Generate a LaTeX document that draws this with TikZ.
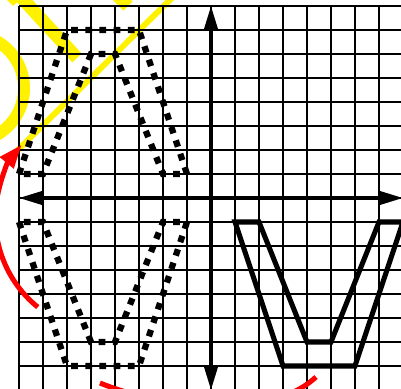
\documentclass[tikz,border=0pt]{standalone}
\usetikzlibrary{arrows.meta}
\begin{document}
\begin{tikzpicture}[x=0.5cm,y=0.5cm,
  gridline/.style={line width=0.8pt,step=0.5cm},
  axisline/.style={line width=1.8pt,{Triangle[length=14pt,width=8pt]}-{Triangle[length=14pt,width=8pt]}},
  preshape/.style={line width=3.7pt,dash pattern=on 4pt off 4.4pt},
  imageshape/.style={line width=3pt},
  marker/.style={yellow,line width=7.7pt},
  turn/.style={red,line width=3pt}]
\useasboundingbox (-8.792,-7.958) rectangle (7.917,8.25);
\clip (-8.792,-7.958) rectangle (7.917,8.25);
% highlighter marks
\draw[marker] (-7.958,8.417) -- (-5.583,5.833);
\draw[marker] (-4.208,8.75) -- (-3.458,8.0);
\draw[yellow,line width=5pt] (-8.458,8.458) -- (-8.125,8.125);
\draw[yellow,line width=7.1pt] (-10.04,4.58) ++(70:2.25) arc (70:-70:2.25);
\draw[yellow,line width=3.5pt] (-8.2,1.85) -- (-1.292,8.667);
% grid and axes
\draw[gridline] (-8,-8) grid (8,8);
\coordinate (XLeft) at (-8,0);
\coordinate (XRight) at (8,0);
\coordinate (YBottom) at (0,-8);
\coordinate (YTop) at (0,8);
\draw[axisline] (XLeft) -- (XRight);
\draw[axisline] (YBottom) -- (YTop);
% upper pre-image
\coordinate (TopPre0) at (-8,1);
\coordinate (TopPre1) at (-6,7);
\coordinate (TopPre2) at (-3,7);
\coordinate (TopPre3) at (-1,1);
\coordinate (TopPre4) at (-2,1);
\coordinate (TopPre5) at (-4,6);
\coordinate (TopPre6) at (-5,6);
\coordinate (TopPre7) at (-7,1);
% lower pre-image
\coordinate (BotPre0) at (-8,-1);
\coordinate (BotPre1) at (-6,-7);
\coordinate (BotPre2) at (-3,-7);
\coordinate (BotPre3) at (-1,-1);
\coordinate (BotPre4) at (-2,-1);
\coordinate (BotPre5) at (-4,-6);
\coordinate (BotPre6) at (-5,-6);
\coordinate (BotPre7) at (-7,-1);
% image
\coordinate (Image0) at (1,-1);
\coordinate (Image1) at (3,-7);
\coordinate (Image2) at (6,-7);
\coordinate (Image3) at (8,-1);
\coordinate (Image4) at (7,-1);
\coordinate (Image5) at (5,-6);
\coordinate (Image6) at (4,-6);
\coordinate (Image7) at (2,-1);
\draw[preshape]
  (TopPre0) --
  (TopPre1) --
  (TopPre2) --
  (TopPre3) --
  (TopPre4) --
  (TopPre5) --
  (TopPre6) --
  (TopPre7) --
  cycle;
\draw[preshape]
  (BotPre0) --
  (BotPre1) --
  (BotPre2) --
  (BotPre3) --
  (BotPre4) --
  (BotPre5) --
  (BotPre6) --
  (BotPre7) --
  cycle;
\draw[imageshape]
  (Image0) --
  (Image1) --
  (Image2) --
  (Image3) --
  (Image4) --
  (Image5) --
  (Image6) --
  (Image7) --
  cycle;
% red arrows
\draw[turn,-{Triangle[length=14pt,width=10pt]}] (-4.208,-0.833) ++(231:4.78) arc (231:140.3:4.78);
\draw[turn] (-4.625,-7.708) .. controls (-2.5,-8.6) and (2.3,-9.4) .. (4.375,-7.458);
\end{tikzpicture}
\end{document}
